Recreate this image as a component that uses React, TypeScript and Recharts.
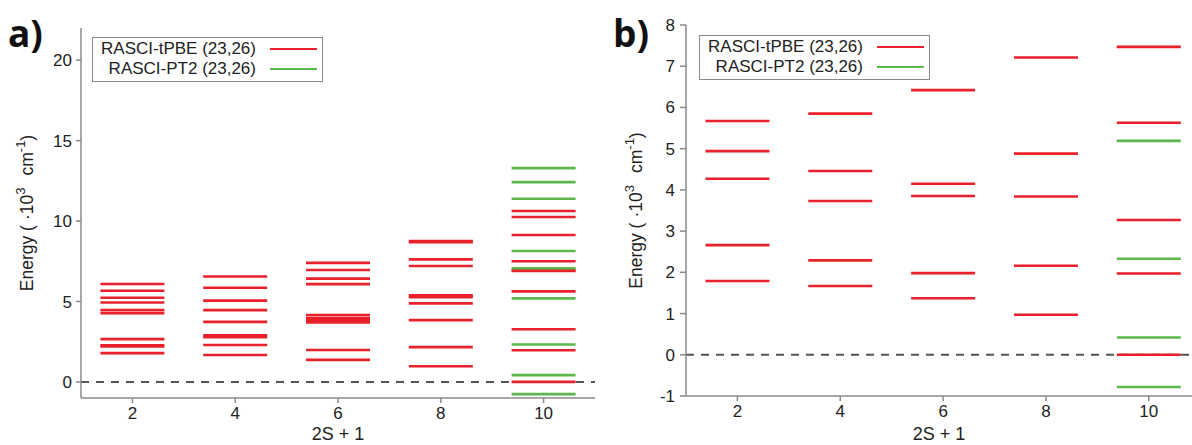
import React from "react";
import {
  Legend,
  ReferenceLine,
  Scatter,
  ScatterChart,
  XAxis,
  YAxis,
} from "recharts";

const FONT = "'Liberation Sans', Arial, sans-serif";
const RED = "#e8212b";
const GREEN = "#5cb84c";
const AXIS = "#8a8a8a";

// 2S+1 multiplicities on the x axis
const spins = [2, 4, 6, 8, 10];
const spinTicks = [2, 4, 6, 8, 10];

const seriesNames = ["RASCI-tPBE (23,26)", "RASCI-PT2 (23,26)"];

// panel a, energies in 10^3 cm-1, one list per multiplicity
const aTpbe: number[][] = [
  [6.09, 5.67, 5.23, 4.94, 4.46, 4.27, 2.66, 2.28, 2.2, 1.79],
  [6.55, 5.85, 5.05, 4.46, 3.73, 2.9, 2.78, 2.29, 1.67],
  [7.4, 6.96, 6.42, 6.08, 4.15, 3.95, 3.85, 3.7, 1.98, 1.37],
  [8.75, 8.68, 7.62, 7.21, 5.38, 5.27, 4.88, 3.84, 2.16, 0.97],
  [10.62, 10.25, 9.13, 7.5, 6.96, 6.9, 5.63, 3.27, 1.97, 0.0],
];
const aPt2: number[][] = [
  [],
  [],
  [],
  [],
  [13.29, 12.42, 11.39, 8.14, 7.07, 5.19, 2.33, 0.42, -0.76],
];
const aTicks = [0, 5, 10, 15, 20];

// panel b
const bTpbe: number[][] = [
  [5.67, 4.94, 4.27, 2.66, 1.79],
  [5.85, 4.46, 3.73, 2.29, 1.67],
  [6.42, 4.15, 3.85, 1.98, 1.37],
  [7.21, 4.88, 3.84, 2.16, 0.97],
  [7.47, 5.63, 3.27, 1.97, 0.0],
];
const bPt2: number[][] = [
  [],
  [],
  [],
  [],
  [5.19, 2.33, 0.42, -0.78],
];
const bTicks = [-1, 0, 1, 2, 3, 4, 5, 6, 7, 8];

const toPoints = (levels: number[][]) =>
  spins.flatMap((s, i) => levels[i].map((e) => ({ s, e })));

const levelShape = (color: string) => (props: any) => (
  <line
    x1={props.cx - 32}
    x2={props.cx + 32}
    y1={props.cy}
    y2={props.cy}
    stroke={color}
    strokeWidth={2.6}
  />
);

function YTitle({ viewBox, xPos }: any) {
  const cx = xPos;
  const cy = viewBox.y + viewBox.height / 2;
  return (
    <text
      x={cx}
      y={cy}
      transform={`rotate(-90 ${cx} ${cy})`}
      textAnchor="middle"
      fontFamily={FONT}
      fontSize={17.5}
      fill="#222"
    >
      Energy (
      <tspan dx={5}>·10</tspan>
      <tspan fontSize={13} dy={-8}>
        3
      </tspan>
      <tspan dx={12} dy={8}>
        cm
      </tspan>
      <tspan fontSize={13} dy={-8}>
        -1
      </tspan>
      <tspan dy={8}>)</tspan>
    </text>
  );
}

function XTitle({ viewBox, drop }: any) {
  return (
    <text
      x={viewBox.x + viewBox.width / 2}
      y={viewBox.y + drop}
      textAnchor="middle"
      fontFamily={FONT}
      fontSize={18}
      fill="#222"
    >
      2S + 1
    </text>
  );
}

function LegendBox({ width }: { width: number }) {
  return (
    <div
      style={{
        width,
        border: `1.5px solid ${AXIS}`,
        background: "#fff",
        fontFamily: FONT,
        fontSize: 17,
        color: "#222",
        padding: "1px 0 2px",
        boxSizing: "border-box",
      }}
    >
      {seriesNames.map((name, i) => (
        <div
          key={name}
          style={{
            display: "flex",
            alignItems: "center",
            justifyContent: "flex-end",
            height: 20,
            paddingRight: 5,
          }}
        >
          <span>{name}</span>
          <span
            style={{
              display: "inline-block",
              width: 47,
              height: 2.5,
              marginLeft: 14,
              background: i === 0 ? RED : GREEN,
            }}
          />
        </div>
      ))}
    </div>
  );
}

function Panel({
  width,
  top,
  right,
  yWidth,
  xHeight,
  xMax,
  yDomain,
  yTicks,
  tickSize,
  tickMargin,
  titleX,
  titleDrop,
  tpbe,
  pt2,
  legendLeft,
  legendTop,
}: any) {
  const tick = { fill: "#222", fontSize: 17, fontFamily: FONT };
  return (
    <ScatterChart
      width={width}
      height={445}
      margin={{ top, right, bottom: 0, left: 0 }}
    >
      <XAxis
        type="number"
        dataKey="s"
        domain={[1, xMax]}
        ticks={spinTicks}
        allowDataOverflow
        height={xHeight}
        tick={tick}
        tickSize={5}
        tickMargin={4}
        stroke={AXIS}
        strokeWidth={1.5}
        label={(p: any) => <XTitle {...p} drop={titleDrop} />}
      />
      <YAxis
        type="number"
        dataKey="e"
        domain={yDomain}
        ticks={yTicks}
        allowDataOverflow
        width={yWidth}
        tick={tick}
        tickSize={tickSize}
        tickMargin={tickMargin}
        stroke={AXIS}
        strokeWidth={1.5}
        label={(p: any) => <YTitle {...p} xPos={titleX} />}
      />
      <ReferenceLine y={0} stroke="#555" strokeWidth={2} strokeDasharray="8 7" />
      <Scatter
        data={toPoints(tpbe)}
        shape={levelShape(RED)}
        isAnimationActive={false}
      />
      <Scatter
        data={toPoints(pt2)}
        shape={levelShape(GREEN)}
        isAnimationActive={false}
      />
      <Legend
        layout="horizontal"
        verticalAlign="middle"
        align="center"
        wrapperStyle={{ left: legendLeft, top: legendTop, width: "auto" }}
        content={() => <LegendBox width={231} />}
      />
    </ScatterChart>
  );
}

const panelTag = (left: number): React.CSSProperties => ({
  position: "absolute",
  left,
  top: 11,
  fontFamily: "'Open Sans', sans-serif",
  fontWeight: 700,
  fontSize: 37,
  lineHeight: "44px",
  color: "#111",
});

export default function App() {
  return (
    <div
      style={{
        position: "absolute",
        left: 0,
        top: 0,
        width: 1192,
        height: 445,
        overflow: "hidden",
        background: "#fff",
      }}
    >
      <div style={{ position: "absolute", left: 0, top: 0 }}>
        <Panel
          width={600}
          top={28}
          right={5}
          yWidth={81}
          xHeight={47}
          xMax={11}
          yDomain={[-1, 22]}
          yTicks={aTicks}
          tickSize={5}
          tickMargin={4}
          titleX={33}
          titleDrop={42}
          tpbe={aTpbe}
          pt2={aPt2}
          legendLeft={92}
          legendTop={37}
        />
      </div>
      <div style={{ position: "absolute", left: 600, top: 0 }}>
        <Panel
          width={592}
          top={25}
          right={0}
          yWidth={86}
          xHeight={49}
          xMax={10.84}
          yDomain={[-1, 8]}
          yTicks={bTicks}
          tickSize={6}
          tickMargin={5}
          titleX={42}
          titleDrop={44}
          tpbe={bTpbe}
          pt2={bPt2}
          legendLeft={99}
          legendTop={35}
        />
      </div>
      <div style={panelTag(8)}>a)</div>
      <div style={panelTag(613)}>b)</div>
    </div>
  );
}
